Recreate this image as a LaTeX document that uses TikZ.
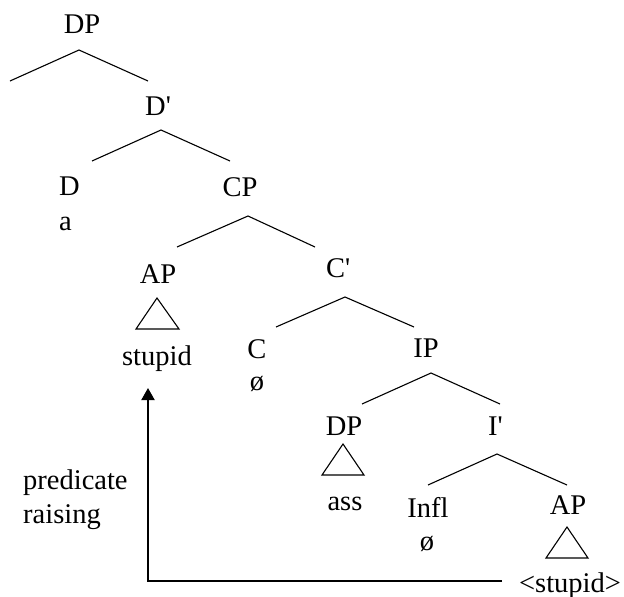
\documentclass[tikz,border=0pt]{standalone}
\usepackage{fontspec}
\setmainfont{Liberation Serif}[Ligatures=TeXOff]
\usetikzlibrary{arrows.meta}
\begin{document}
\begin{tikzpicture}[x=1pt,y=-1pt,
  lbl/.style={inner sep=0pt,anchor=base,font=\fontsize{28.5}{30}\selectfont},
  lblw/.style={lbl,anchor=base west},
  branch/.style={line width=1.1pt},
  tri/.style={line width=1.1pt,line join=miter},
  move/.style={line width=2pt}]
\useasboundingbox (0,0) rectangle (624,597);
% labels
\node[lbl]  (dp)    at (82,34)   {DP};
\node[lblw] (dbar)  at (145,115) {D'};
\node[lblw] (d)     at (59,195)  {D};
\node[lblw] (a)     at (59,230)  {a};
\node[lbl]  (cp)    at (240,196) {CP};
\node[lbl]  (ap)    at (158,283) {AP};
\node[lbl]  (stup)  at (157,365) {stupid};
\node[lblw] (cbar)  at (326,277) {C'};
\node[lbl]  (c)     at (257,358) {C};
\node[lbl]  (cnull) at (257,390) {ø};
\node[lbl]  (ip)    at (426,357) {IP};
\node[lbl]  (dpb)   at (344,435) {DP};
\node[lblw] (ibar)  at (488,435) {I'};
\node[lbl]  (ass)   at (345,510) {ass};
\node[lbl]  (infl)  at (428,517) {Infl};
\node[lbl]  (inull) at (427,550) {ø};
\node[lbl]  (apb)   at (568,514) {AP};
\node[lbl]  (trace) at (570,592) {<stupid>};
\node[lblw] (pred)  at (23,489)  {predicate};
\node[lblw] (rais)  at (23,523)  {raising};
% branch points
\coordinate (dpA) at (79,50);   \coordinate (dpL) at (10,81);   \coordinate (dpR) at (148,81);
\coordinate (dbA) at (161,130); \coordinate (dbL) at (92,161);  \coordinate (dbR) at (230,161);
\coordinate (cpA) at (248,216); \coordinate (cpL) at (177,247); \coordinate (cpR) at (315,247);
\coordinate (cbA) at (345,297); \coordinate (cbL) at (276,327); \coordinate (cbR) at (414,327);
\coordinate (ipA) at (431,373); \coordinate (ipL) at (362,404); \coordinate (ipR) at (500,404);
\coordinate (ibA) at (497,454); \coordinate (ibL) at (428,485); \coordinate (ibR) at (567,485);
\draw[branch] (dpL) -- (dpA) -- (dpR);
\draw[branch] (dbL) -- (dbA) -- (dbR);
\draw[branch] (cpL) -- (cpA) -- (cpR);
\draw[branch] (cbL) -- (cbA) -- (cbR);
\draw[branch] (ipL) -- (ipA) -- (ipR);
\draw[branch] (ibL) -- (ibA) -- (ibR);
% triangles
\draw[tri] (157,298) -- (136,329) -- (179,329) -- cycle;
\draw[tri] (343,444) -- (322,475) -- (364,475) -- cycle;
\draw[tri] (567,527) -- (546,558) -- (588,558) -- cycle;
% movement arrow
\coordinate (mvS) at (502,581);
\coordinate (mvC) at (148,581);
\coordinate (mvT) at (148,388);
\draw[move,-{Triangle[length=12pt,width=13pt]}] (mvS) -- (mvC) -- (mvT);
\end{tikzpicture}
\end{document}
